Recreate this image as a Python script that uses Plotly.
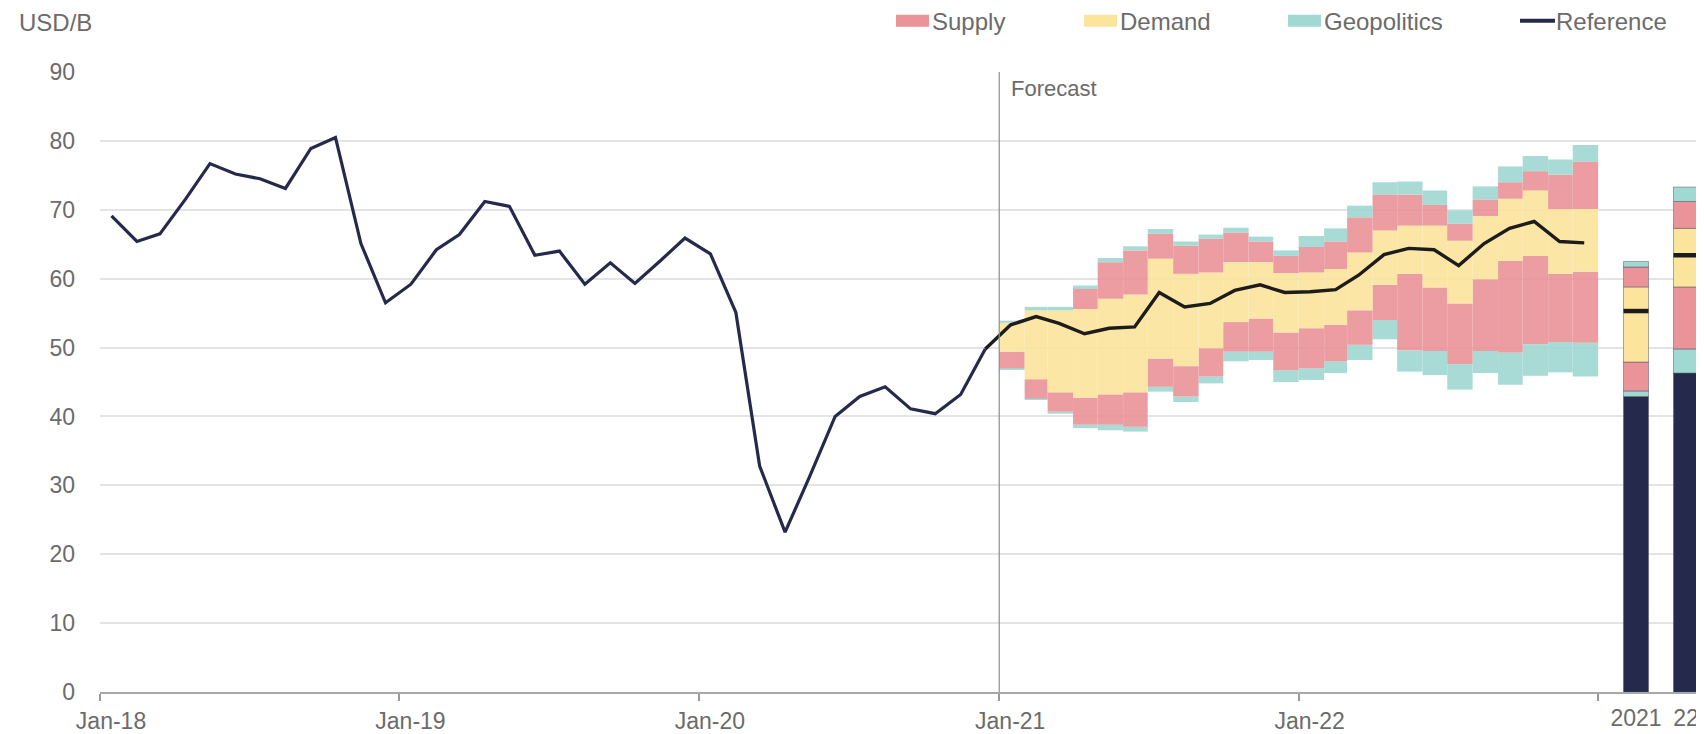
import plotly.graph_objects as go
import pandas as pd

# ---------------- data ----------------
hist_start = "2018-01-01"
hist_values = [69.1, 65.4, 66.5, 71.5, 76.7, 75.2, 74.5, 73.1, 78.9, 80.5, 65.1, 56.5,
               59.2, 64.2, 66.4, 71.2, 70.5, 63.4, 64.0, 59.2, 62.3, 59.3, 62.6, 65.9,
               63.6, 55.1, 32.8, 23.2, 31.3, 40.0, 42.9, 44.3, 41.1, 40.4, 43.2, 49.8]

fc_start = "2021-01-01"
fc_reference = [53.3, 54.5, 53.5, 52.0, 52.8, 53.0, 58.0, 55.9, 56.4, 58.3, 59.1, 58.0,
                58.1, 58.4, 60.5, 63.5, 64.4, 64.2, 61.9, 65.1, 67.3, 68.3, 65.4, 65.2]

# band boundaries (bottom -> top), one value per forecast month
band_geo_lo = [46.8, 42.4, 40.4, 38.3, 38.0, 37.8, 43.6, 42.1, 44.8, 48.0, 48.2, 45.0,
               45.3, 46.3, 48.2, 51.2, 46.5, 46.0, 43.9, 46.3, 44.6, 45.9, 46.4, 45.8]
band_sup_lo = [47.0, 42.6, 40.7, 38.8, 38.8, 38.5, 44.3, 42.9, 45.8, 49.4, 49.4, 46.7,
               47.0, 48.0, 50.4, 54.0, 49.6, 49.5, 47.6, 49.5, 49.3, 50.5, 50.8, 50.7]
band_dem_lo = [49.4, 45.4, 43.5, 42.7, 43.2, 43.5, 48.4, 47.3, 49.9, 53.7, 54.2, 52.2,
               52.8, 53.3, 55.4, 59.1, 60.7, 58.7, 56.4, 59.9, 62.6, 63.3, 60.7, 61.0]
band_dem_hi = [53.6, 55.4, 55.4, 55.6, 57.1, 57.7, 62.9, 60.7, 60.9, 62.4, 62.4, 60.8,
               60.9, 61.4, 63.8, 67.0, 67.7, 67.7, 65.5, 69.1, 71.6, 72.8, 70.1, 70.1]
band_sup_hi = [53.6, 55.4, 55.4, 58.5, 62.4, 64.1, 66.5, 64.8, 65.8, 66.7, 65.4, 63.3,
               64.6, 65.4, 68.9, 72.2, 72.2, 70.7, 68.0, 71.5, 74.0, 75.6, 75.1, 77.0]
band_geo_hi = [53.9, 55.9, 55.9, 59.0, 63.0, 64.7, 67.2, 65.4, 66.4, 67.4, 66.1, 64.1,
               66.2, 67.3, 70.6, 74.0, 74.1, 72.8, 69.9, 73.4, 76.3, 77.8, 77.3, 79.4]

# annual summary bars
bar_cats = ["2021", "22"]
bar_geo_lo = [42.9, 46.3]
bar_sup_lo = [43.7, 49.8]
bar_dem_lo = [47.9, 58.8]
bar_ref = [55.3, 63.4]
bar_dem_hi = [58.8, 67.3]
bar_sup_hi = [61.7, 71.2]
bar_geo_hi = [62.5, 73.3]

x_tick_dates = ["2018-01-01", "2019-01-01", "2020-01-01", "2021-01-01", "2022-01-01", "2023-01-01"]
x_tick_text = ["Jan-18", "Jan-19", "Jan-20", "Jan-21", "Jan-22", ""]

# ---------------- style ----------------
C_SUP = "#ea9398"
C_DEM = "#fbe49c"
C_GEO = "#a0d8d2"
C_NAVY = "#252a4d"
C_BLACK = "#1c1c1c"
TXT = "#6b6b6b"
FONT = "Liberation Sans, Arial, sans-serif"

# page has an 8px body margin: figure is sized/offset to compensate
OFF = 8
W, H = 1696, 726
ML, MT, MB, MR = 92, 64, 39, 0
PW, PH = W - ML - MR, H - MT - MB


def px_x(page_px):
    return (page_px - OFF - ML) / PW


def px_y(page_py):
    return (H - MB - (page_py - OFF)) / PH


hist_months = pd.date_range(hist_start, periods=len(hist_values), freq="MS")
hist_x = hist_months + pd.Timedelta(days=14)
fc_months = pd.date_range(fc_start, periods=len(fc_reference), freq="MS")
fc_x = fc_months + pd.Timedelta(days=14)
fc_width = [d * 86400000 for d in fc_months.days_in_month]

fig = go.Figure()

# forecast bands as month-wide bars
layers = [
    (band_geo_lo, band_sup_lo, C_GEO),
    (band_sup_lo, band_dem_lo, C_SUP),
    (band_dem_lo, band_dem_hi, C_DEM),
    (band_dem_hi, band_sup_hi, C_SUP),
    (band_sup_hi, band_geo_hi, C_GEO),
]
for lo, hi, col in layers:
    fig.add_trace(go.Bar(
        x=fc_months, y=[h - l for l, h in zip(lo, hi)], base=lo,
        width=fc_width, offset=0, marker=dict(color=col, line=dict(width=0)),
        opacity=0.9, hoverinfo="skip", showlegend=False))

# annual bars on second axis
seg_line = dict(color="rgba(70,70,95,0.45)", width=1)
bar_layers = [
    ([0, 0], bar_geo_lo, C_NAVY),
    (bar_geo_lo, bar_sup_lo, C_GEO),
    (bar_sup_lo, bar_dem_lo, C_SUP),
    (bar_dem_lo, bar_dem_hi, C_DEM),
    (bar_dem_hi, bar_sup_hi, C_SUP),
    (bar_sup_hi, bar_geo_hi, C_GEO),
]
for lo, hi, col in bar_layers:
    fig.add_trace(go.Bar(
        x=bar_cats, y=[h - l for l, h in zip(lo, hi)], base=lo, width=0.5,
        xaxis="x2", yaxis="y", marker=dict(color=col, line=seg_line),
        hoverinfo="skip", showlegend=False))
fig.add_trace(go.Bar(
    x=bar_cats, y=[0.65] * len(bar_ref), base=[r - 0.325 for r in bar_ref], width=0.5,
    xaxis="x2", yaxis="y", marker=dict(color=C_BLACK, line=dict(width=0)),
    hoverinfo="skip", showlegend=False))

# reference lines
fig.add_trace(go.Scatter(
    x=list(hist_x), y=hist_values, mode="lines",
    line=dict(color=C_NAVY, width=3.2), name="Reference", showlegend=False))
fig.add_trace(go.Scatter(
    x=[hist_x[-1]] + list(fc_x), y=[hist_values[-1]] + fc_reference, mode="lines",
    line=dict(color=C_BLACK, width=3.4), showlegend=False))

# forecast divider
fig.add_shape(type="line", xref="x", yref="y", x0="2021-01-01", x1="2021-01-01",
              y0=0, y1=90, line=dict(color="#8c8c8c", width=1.2), layer="above")

annotations = [
    dict(x="2021-01-01", y=87.6, xref="x", yref="y", text="Forecast", showarrow=False,
         xanchor="left", yanchor="middle", xshift=10, font=dict(size=22, color=TXT, family=FONT)),
    dict(x=px_x(17), y=px_y(22), xref="paper", yref="paper", text="USD/B", showarrow=False,
         xanchor="left", yanchor="middle", font=dict(size=24, color=TXT, family=FONT)),
]

# custom legend
legend_items = [("Supply", 896, C_SUP, "rect"), ("Demand", 1084, C_DEM, "rect"),
                ("Geopolitics", 1288, C_GEO, "rect"), ("Reference", 1520, C_NAVY, "line")]
LEG_Y = 21.5
for label, x0, col, kind in legend_items:
    if kind == "rect":
        fig.add_shape(type="rect", xref="paper", yref="paper",
                      x0=px_x(x0), x1=px_x(x0 + 33), y0=px_y(LEG_Y + 5), y1=px_y(LEG_Y - 7),
                      fillcolor=col, line=dict(width=0))
    else:
        fig.add_shape(type="line", xref="paper", yref="paper",
                      x0=px_x(x0), x1=px_x(x0 + 35), y0=px_y(LEG_Y - 1), y1=px_y(LEG_Y - 1),
                      line=dict(color=col, width=4))
    annotations.append(dict(x=px_x(x0 + 34), y=px_y(LEG_Y), xref="paper", yref="paper",
                            text=label, showarrow=False, xanchor="left", yanchor="middle",
                            font=dict(size=24, color=TXT, family=FONT)))

fig.update_layout(
    width=W, height=H,
    margin=dict(l=ML, r=MR, t=MT, b=MB),
    paper_bgcolor="white", plot_bgcolor="white",
    barmode="overlay", showlegend=False,
    font=dict(family=FONT, color=TXT, size=23),
    annotations=annotations,
    xaxis=dict(type="date", range=["2018-01-01", "2023-05-10"], domain=[0, 1],
               tickvals=x_tick_dates, ticktext=x_tick_text,
               ticks="outside", ticklen=7, tickwidth=1.5, tickcolor="#9a9a9a",
               ticklabelshift=11,
               showline=True, linecolor="#a8a8a8", linewidth=2,
               showgrid=False, zeroline=False,
               tickfont=dict(size=23, color=TXT, family=FONT)),
    xaxis2=dict(type="category", anchor="y", domain=[px_x(1600), 1],
                range=[-0.72, 1.36], showline=False, showgrid=False, zeroline=False,
                ticks="", ticklabelstandoff=10,
                tickfont=dict(size=23, color=TXT, family=FONT)),
    yaxis=dict(range=[0, 90], dtick=10, tick0=0, showline=False, zeroline=False,
               gridcolor="#e4e4e4", gridwidth=1.5, ticks="",
               ticklabelstandoff=24,
               tickfont=dict(size=23, color=TXT, family=FONT)),
)

fig.write_html("out.html")
